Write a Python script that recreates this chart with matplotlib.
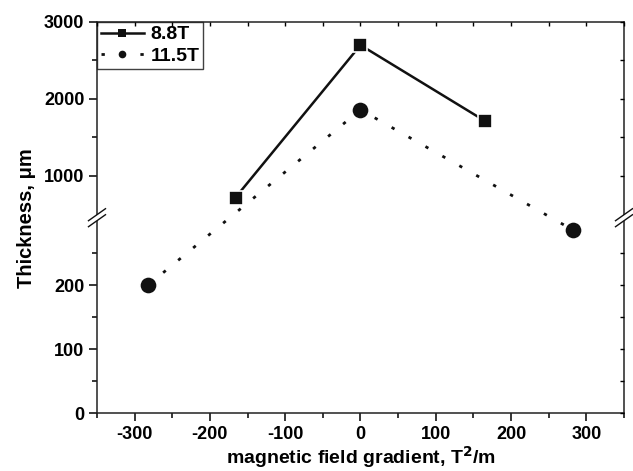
import numpy as np
import matplotlib
matplotlib.use("Agg")
import matplotlib.pyplot as plt
from matplotlib.lines import Line2D
from matplotlib.patches import Polygon

plt.rcParams['font.family'] = ['Liberation Sans', 'DejaVu Sans']
plt.rcParams['font.weight'] = 'bold'

# ---- data ----
x_88 = [-166, 0, 166]
y_88 = [720, 2700, 1710]
x_115 = [-282, 0, 282]
y_115 = [200, 1860, 286]
labels = ['8.8T', '11.5T']
xticks = [-300, -200, -100, 0, 100, 200, 300]
yticks = [0, 100, 200, 1000, 2000, 3000]
yminor = [50, 150, 250, 1500, 2500]

# ---- broken-axis scale ----
LO, HI = 300.0, 500.0
A = 0.6413   # px per unit below break
B = 0.077    # px per unit above break
G = 6.5      # gap px

def fwd(y):
    y = np.asarray(y, dtype=float)
    low = y * A
    mid = LO * A + (y - LO) / (HI - LO) * G
    up = LO * A + G + (y - HI) * B
    return np.where(y <= LO, low, np.where(y >= HI, up, mid))

def inv(p):
    p = np.asarray(p, dtype=float)
    p1 = LO * A
    p2 = LO * A + G
    low = p / A
    mid = LO + (p - p1) / G * (HI - LO)
    up = HI + (p - p2) / B
    return np.where(p <= p1, low, np.where(p >= p2, up, mid))

fig = plt.figure(figsize=(6.33, 4.71), dpi=100)
ax = fig.add_axes([0.1532, 0.1225, 0.8326, 0.8308])
ax.set_yscale('function', functions=(fwd, inv))
ax.set_xlim(-350, 350)
ax.set_ylim(0, 3000)

l1, = ax.plot(x_88, y_88, color='#111111', lw=1.8, marker='s', ms=10.5,
              mec='white', mew=1.2, mfc='#111111', label=labels[0], zorder=3)
l2, = ax.plot(x_115, y_115, color='#111111', lw=2.0, ls=(0, (1.2, 5.8)),
              marker='o', ms=12.5, mec='white', mew=1.2, mfc='#111111',
              label=labels[1], zorder=3)

ax.set_xticks(xticks)
ax.set_xticks(np.arange(-350, 351, 50), minor=True)
ax.set_yticks(yticks)
ax.set_yticks(yminor, minor=True)
ax.set_xticklabels([str(t) for t in xticks])
ax.set_yticklabels([str(t) for t in yticks])
ax.tick_params(which='major', direction='out', length=6, width=1.1,
               labelsize=13, pad=3)
ax.tick_params(which='minor', direction='out', length=3.5, width=1.1)
for lab in ax.get_xticklabels() + ax.get_yticklabels():
    lab.set_fontweight('bold')
for s in ax.spines.values():
    s.set_linewidth(1.1)
    s.set_color('#222222')

# right & top inward ticks
axr = ax.twinx()
axr.set_yscale('function', functions=(fwd, inv))
axr.set_ylim(0, 3000)
axr.set_yticks(yticks)
axr.set_yticks(yminor, minor=True)
axr.tick_params(which='both', direction='in', length=3, width=1.0,
                labelright=False)
axt = ax.twiny()
axt.set_xlim(-350, 350)
axt.set_xticks(np.arange(-300, 301, 100))
axt.set_xticks(np.arange(-350, 351, 50), minor=True)
axt.tick_params(which='both', direction='in', length=3, width=1.0,
                labeltop=False)
for a in (axr, axt):
    for s in a.spines.values():
        s.set_visible(False)

ax.set_xlabel('magnetic field gradient, T$^\\mathbf{2}$/m', fontsize=14,
              fontweight='bold', labelpad=1)
ax.set_ylabel('Thickness, μm', fontsize=14.5, fontweight='bold', labelpad=6)

leg = ax.legend(loc='upper left', borderaxespad=0, frameon=True,
                fancybox=False, edgecolor='#111111',
                handlelength=2.2, handletextpad=0.35, borderpad=0.2,
                labelspacing=0.2, prop={'weight': 'bold', 'size': 14})
leg.get_frame().set_linewidth(1.0)
for h in leg.legend_handles:
    h.set_markersize(5.5)
    h.set_markeredgewidth(0)
leg.set_zorder(5)

# break marks on both spines
ymid = float((fwd(LO) + fwd(HI)) / 2 / fwd(3000))
W = 527.0
H = 391.3
dx = 8.5 / W
dy = 6.0 / H
off = 3.0 / H
for xa in (0.0, 1.0):
    poly = Polygon([(xa - dx, ymid - dy - off), (xa + dx, ymid + dy - off),
                    (xa + dx, ymid + dy + off), (xa - dx, ymid - dy + off)],
                   closed=True, transform=ax.transAxes, facecolor='white',
                   edgecolor='none', clip_on=False, zorder=10)
    ax.add_patch(poly)
    for o in (-off, off):
        ax.add_line(Line2D([xa - dx, xa + dx], [ymid - dy + o, ymid + dy + o],
                           transform=ax.transAxes, color='#111111', lw=1.0,
                           clip_on=False, zorder=11))

fig.savefig('out.png', dpi=100)
